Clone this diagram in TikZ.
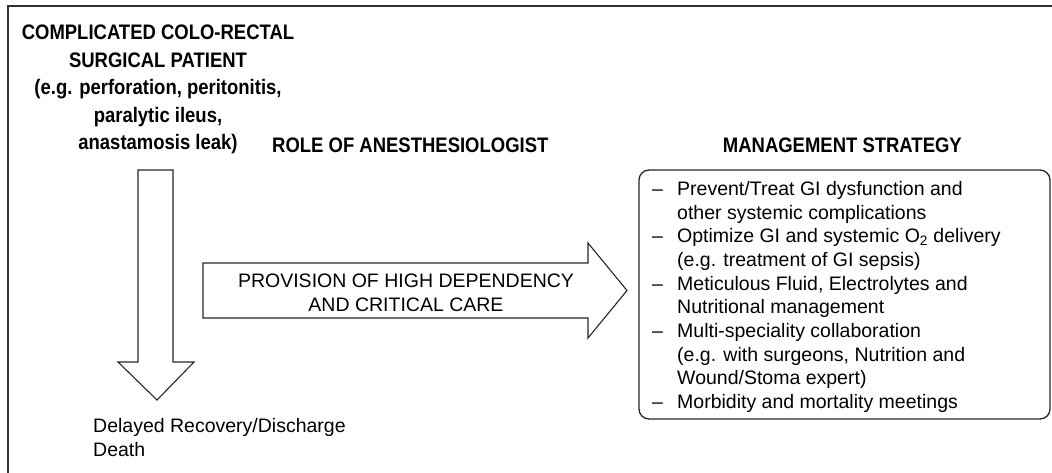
\documentclass[tikz,border=0pt]{standalone}
\usepackage{fontspec}
\setmainfont{Liberation Sans}
\newfontfamily\narrowbold[FakeStretch=0.88]{Liberation Sans}
\begin{document}
\begin{tikzpicture}[x=1pt,y=-1pt,
  linecol/.style={draw=black!85},
  boldtxt/.style={font=\narrowbold\bfseries\fontsize{21}{27.5}\selectfont, inner sep=0pt},
  regtxt/.style={font=\fontsize{19.5}{23.7}\selectfont, inner sep=0pt},
  bigarrow/.style={linecol, line width=1.1pt, fill=white, line join=miter},
  stratbox/.style={linecol, line width=1.3pt, rounded corners=10pt}
]
\useasboundingbox (0,0) rectangle (1052,472);
% outer frame (only top and left edges visible)
\draw[draw=black!80, line width=1.6pt] (8,480) -- (8,6) -- (1060,6);

% title
\node[boldtxt, align=center, anchor=north] (patient) at (158,25)
  {COMPLICATED COLO-RECTAL\\SURGICAL PATIENT\\(e.g. perforation, peritonitis,\\paralytic ileus,\\anastamosis leak)};

\node[boldtxt, anchor=base west] (role) at (272,152) {ROLE OF ANESTHESIOLOGIST};
\node[boldtxt, anchor=base east] (mgmt) at (962,152) {MANAGEMENT STRATEGY};

% down arrow
\draw[bigarrow] (138,170) -- (173,170) -- (173,362) -- (194,362) -- (157,400)
  -- (118,362) -- (138,362) -- cycle;
\coordinate (downtip) at (157,400);

% outcome text
\node[regtxt, align=left, anchor=north west] (outcome) at (93,418)
  {Delayed Recovery/Discharge\\Death};

% right arrow
\draw[bigarrow] (203,263) -- (588,263) -- (588,243) -- (627,290.5) -- (588,338)
  -- (588,318) -- (203,318) -- cycle;
\node[regtxt, align=center, anchor=north] (care) at (406,274)
  {PROVISION OF HIGH DEPENDENCY\\AND CRITICAL CARE};

% strategy box
\draw[stratbox] (639,170) rectangle (1050,419);
\node[regtxt, align=left, anchor=north west] (strategy) at (652,181)
  {\makebox[25pt][l]{--}Prevent/Treat GI dysfunction and\\
   \hspace*{25pt}other systemic complications\\
   \makebox[25pt][l]{--}Optimize GI and systemic O\textsubscript{2} delivery\\
   \hspace*{25pt}(e.g. treatment of GI sepsis)\\
   \makebox[25pt][l]{--}Meticulous Fluid, Electrolytes and\\
   \hspace*{25pt}Nutritional management\\
   \makebox[25pt][l]{--}Multi-speciality collaboration\\
   \hspace*{25pt}(e.g. with surgeons, Nutrition and\\
   \hspace*{25pt}Wound/Stoma expert)\\
   \makebox[25pt][l]{--}Morbidity and mortality meetings};
\end{tikzpicture}
\end{document}
